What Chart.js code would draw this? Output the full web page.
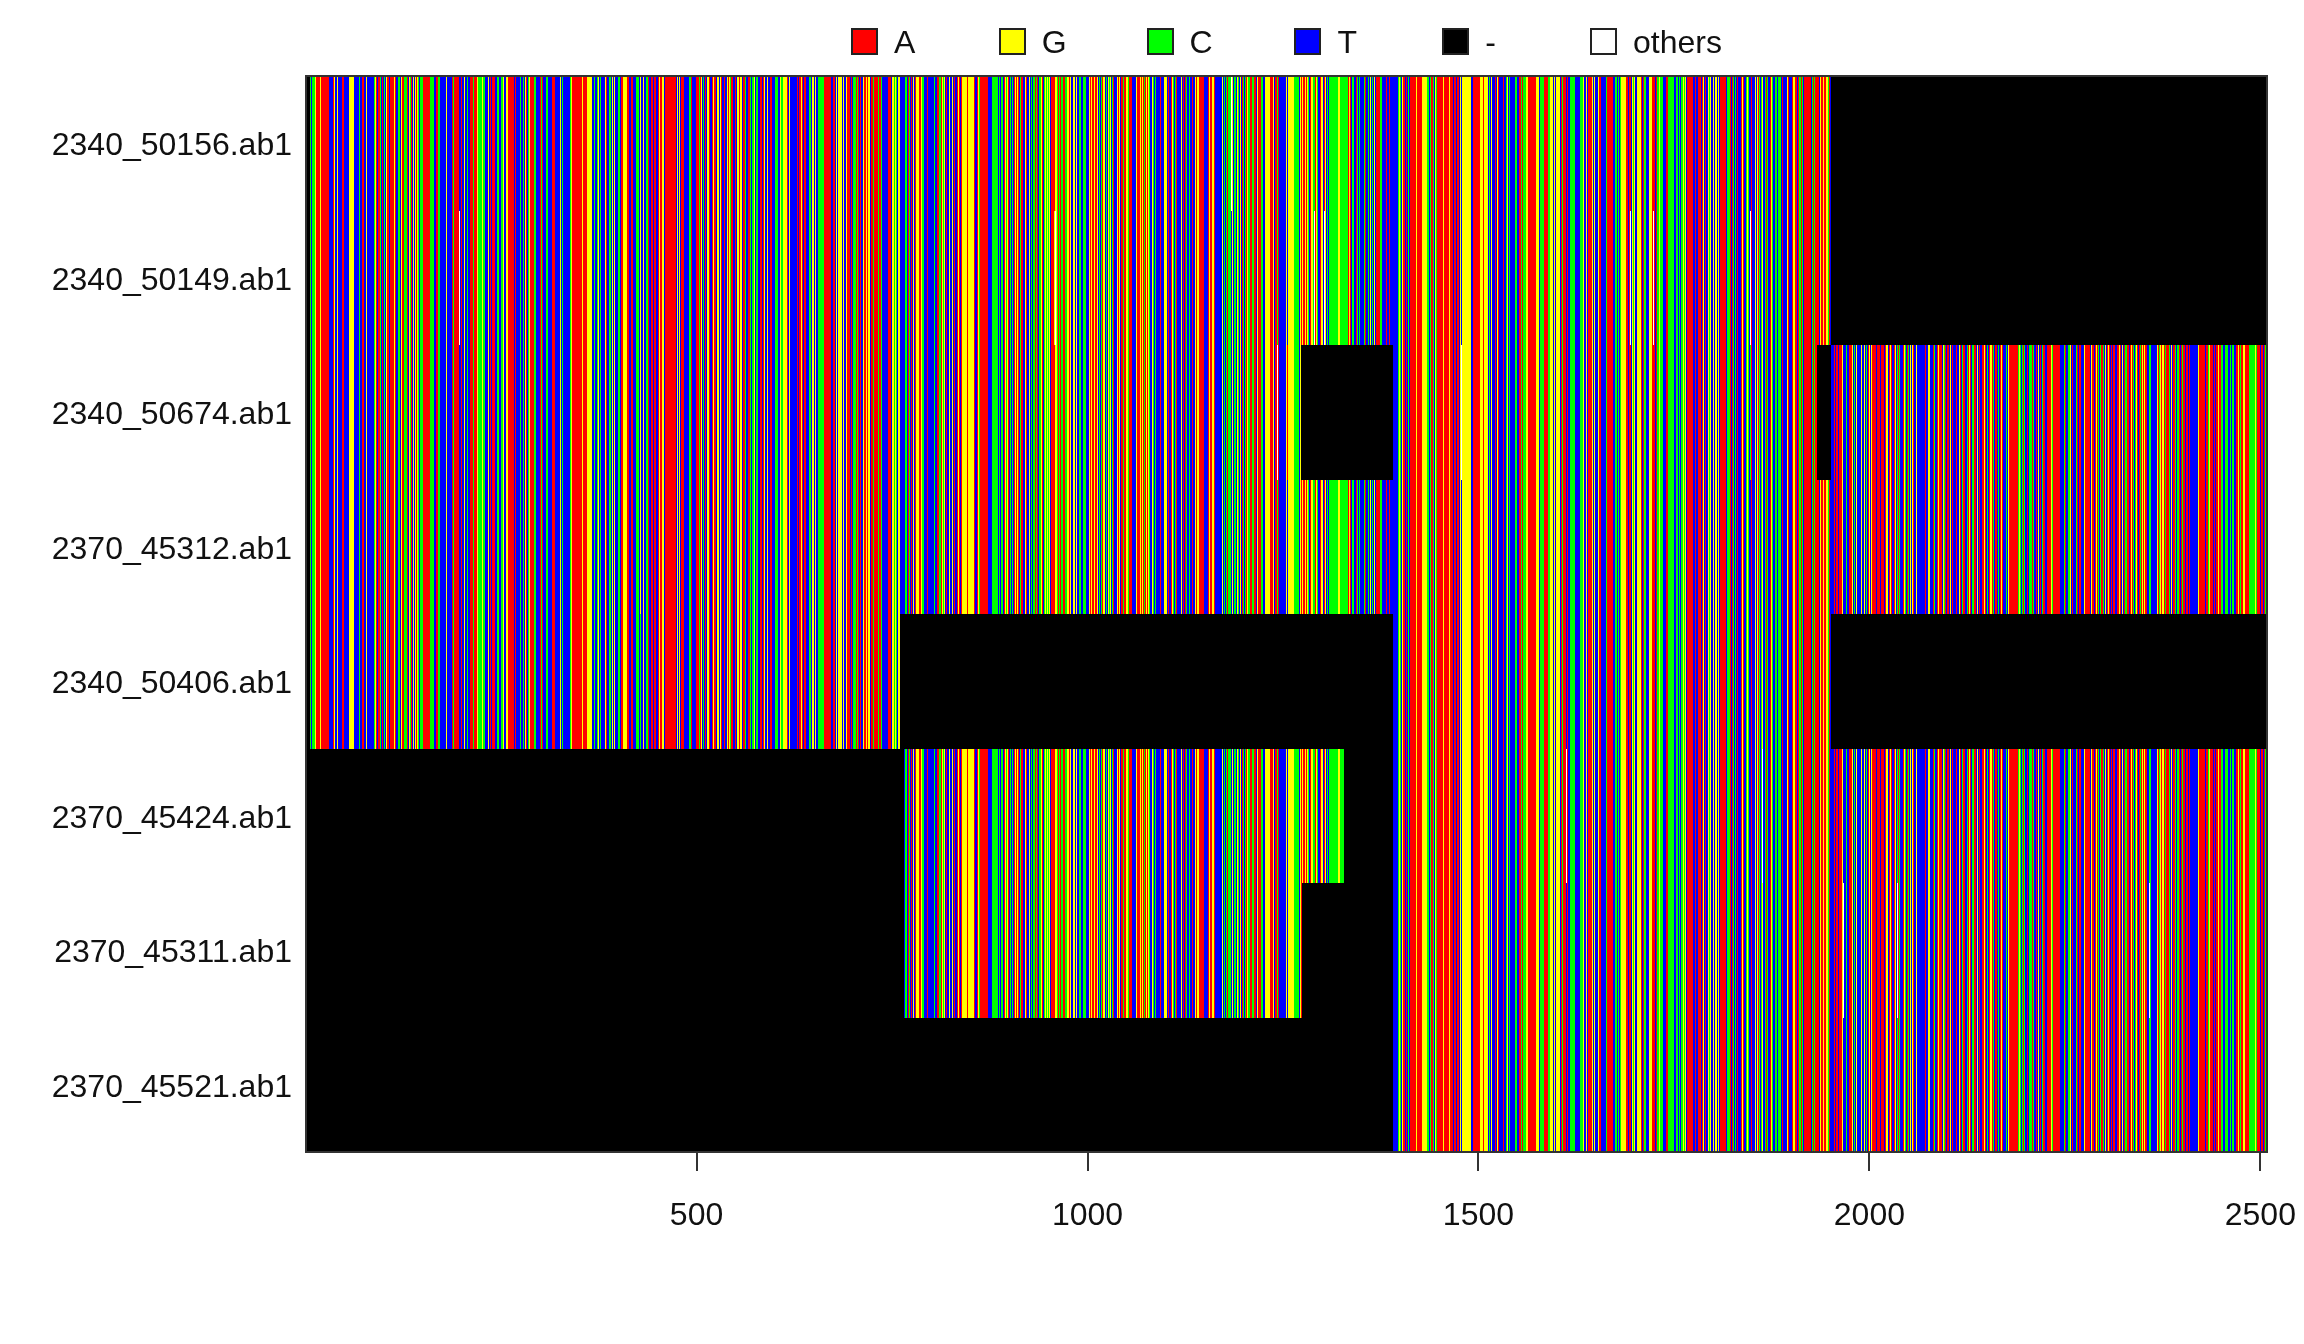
<!DOCTYPE html>
<html>
<head>
<meta charset="utf-8">
<title>Alignment</title>
<script src="https://cdn.jsdelivr.net/npm/chart.js@4"></script>
<style>
  body { margin: 0; background: #fff; }
  #wrap { position: relative; width: 2304px; height: 1344px; }
  canvas { display: block; }
  .key { position: absolute; top: 28px; height: 28px; font: 32px "Liberation Sans", Arial, sans-serif; color: #111; }
  .key i { position: absolute; left: 0; top: 0; width: 23px; height: 23px; border: 2px solid #222; }
  .key span { position: absolute; left: 43px; top: -4px; line-height: 36px; white-space: nowrap; }
</style>
</head>
<body>
<div id="wrap"><canvas id="chart" width="2304" height="1344"></canvas></div>
<script>
const samples = ['2340_50156.ab1', '2340_50149.ab1', '2340_50674.ab1', '2370_45312.ab1',
  '2340_50406.ab1', '2370_45424.ab1', '2370_45311.ab1', '2370_45521.ab1'];
const xTicks = [500, 1000, 1500, 2000, 2500];
const alignmentLength = 2508;

const bases = ['A', 'G', 'C', 'T', '-', 'N'];
const baseNames = ['A', 'G', 'C', 'T', '-', 'others'];
const baseColors = ['#ff0000', '#ffff00', '#00ff00', '#0000ff', '#000000', '#ffffff'];

const stretchStarts = [1, 376, 632, 887, 1143, 1257, 1390, 1527, 1693, 1859, 1950, 2166];
const stretchBases = [
  '----CCTCCCTGAAAAGAAAAAAAAAATTTTAAGTGTGTTTTAAATTTATTGGGGGTTTTTTTCTCAATTTGTTTTTTTTCGTATATACTATCTGTAATAAAAAGATTTCCTGGAACCCAGTGCAATGTGAGCTTCCCCAAAAAAACCCCCCTTAACCTTTTTTTTGTTTTTTACAGAAAATTATTTGTTTCTTAAAACAATAGCCCCGACCTTCTGTATAAAATTCCCTTTCGTCTGGAGAAAAATATTTTTTCTTCTGTATCGAAAAACCTTTTTAACATTTCCTTTTTTAAAATTTTTGTGCTTTTTTTTCGAGAAAAAAAAAAGAGAAATGGGGGTTCCTTCGG',
  'TCTTTTTTGATTTCCCTGTTGTTGTTCCCTAAAGAGGGAAATTTAATTCTTCCCCTGGGTTGTTTCCTATTTAAATAAATTTAGGAAGAGTAAAAAAAAAAAAATAATCGTGTTAAGATTTTTTTCCAAATTTTTAAAACCAGATCTATTGAGGATTAGGAATATGGTAGATTGTATTAGAGCAAATTCTATGTGAGGATTAAGCTTAATACTCCCGTCCCCTTTAATAAGTTGAGTTTAATTTTTCCCCTTGTCCAGGTGGATTGTTGGTTTTTTATTT',
  'AGATTAAATTTCTCTGGTGTGTCCCCCCCAAAAAAAAATTAATTGTGGGGATGTTTGAAGATATCCCCACATAATTGGAAGAGGTGAACAAAAATCAACTTTTTTTATAATTGCGGCTGGGTTTTTTCCTACATATGATAGGGGATGCCGTTTATTTTTATCATTAATCCATGCGTATTGGTTGGTATTAAGATAGGGGGGTAGGGAGGATTTAAGCAAAAAAAAATTTTTCCCCCCCCT',
  'CGTCCTTAGCGGATTCTCTTAGAGAATCAAATTTGATTTGTCTTCCATCATTCCGATTCGGCGCGTTAAAAAGGCCACATCCATACCGAGAGATTGGTTGTTTCCTTTCCCCTTTAGAGAGAGAGAGTACATCAGAGTCCTGCGGTCAGTTTGAAGTAGACATAGGCAAAAGTTTTCGAAATGAGCACAGCAGCTTTGCATCTATTTAATTTGAGGTTATTAGGCTCCATTGTTGTCATACCTTCATTAATTGAGGGT',
  'AAAAAATTTTGAGAGAGGAGTTTTTTTCGTCTACACCCCTGATCATGCTAGTATCTCATGCCAGACAAATGAAAAGCCTTCGGGGCGAAAGTAGACATTTTTGTTTGTT',
  'GGGGGGGGCCCCCCTGTAGAGAGAGGCTAGAGCCGAGCTATAGAGTAGATCTCTCCCCCCCCCCGGGCCCCCCCCCCAGATTCCTATACTTCTTATTCCATTCTTGTCATGTTAAAACCCTCTTTAGTTAGTT',
  'TTTTTTACGCTTGAAATATACTAAAAAAAAGAAAAAAGGGGGGGCCTCCAATCTGCTAAAATAAGCAAAAAGAAAATAAATAAATGTTGGGGGGGGAGGTTAAAAAGAAAGGGGAGGGGGGTCTTGTTTTATGTA',
  'TTTTATTTCGTTCTTCTTTCTCTTAAACACCCCGAGAAGAAAAAAGGGGTCCCCCAAAAAACCGGTGTGTTGGGGGTACAAATTATTACCCCCCTTTTTTCCCCGTTTGTAAAAAAGTGGTTAGAATTTTTTACAATAAAATTTCTCTCTTCGGGGGGATAT',
  'ACTGCTGTTGGGGGGATACCCTTTGGGGAAAATCACCAGCCCTTTTAAACCCCCCGTTCTCTCTTCCGGCGTAAAAAAGATTTATTAAAATCAGTATTTGCCGTTTGTGTTGTAAAAACAATACCCACTACTTCTACTTTAAGATATCGCCTTATTTTGGTGA',
  'CTCGCTTCACCTTAGCTCTCCTACCGTATTCTTGAATTGAGGAGATAGCACTTAAAAAAAATCAACAAGAATGAAGGAAGGGCA',
  'TTTTATTAATTAAAAGTTTCTTTAAAGGTCTGTTTTTGTTCGTCGTAGTAGAAAATAAAATAAAATTAGTGAGATTTAGCTCACGTTGAGCTTACTAGTGATTGTTTTTTTTTTTATTTGTTTTACCTTAGTAAATGCAATAATAGTATTTTATTGAATCAGATTCTAGATCCAAATGCTATTCAAGATCTTAGGATCTAGATC',
  'TAGATCTTCTTGAAAAAAAAAAACGCGTCACATTATCCCTACTTCATGTTATCCATTTAAAAAGCAAAAAAAATTTTTGCATTACCGTTATTTCATAAATGTTGATAAAATGAGATAGTACTCCAACTGTTAGATAATAACTTAAGATAGTAGCCAAATAGACTCAGATATCAGAAGAAGTCACTTTTTTTGAACGAAGATCAAGACTGCTAACCTCGATACAAATGAATAATTTTTTTTTGAATAAAGATAACGATAATATTAAGAAACCTTCGCCTATCTCGCTTAAGAACAAGAGAATAACCCCCCCGCAAAATACATACCC'
];

// stretches of a row with no read, [from, to]
const rowGaps = [
  [[1951, 2508]],
  [[1951, 2508]],
  [[1274, 1390], [1933, 1950]],
  [],
  [[761, 1390], [1951, 2508]],
  [[1, 765], [1328, 1390]],
  [[1, 765], [1275, 1390]],
  [[1, 1390]]
];

// single positions where a row differs from the consensus, [row, position, base]
const rowVariants = [
  [0, 1184, 'N'], [1, 197, 'N'], [1, 958, 'G'], [1, 959, 'N'], [1, 1290, 'N'], [1, 1303, 'N'],
  [1, 1534, 'C'], [1, 1694, 'N'], [1, 1724, 'N'], [1, 1848, 'N'], [2, 890, 'C'], [2, 958, 'A'],
  [2, 1243, 'N'], [2, 1256, 'A'], [2, 1478, 'N'], [2, 1848, 'C'], [4, 428, 'C'], [5, 1613, 'N'],
  [5, 1863, 'N'], [6, 1967, 'N'], [6, 2036, 'N'], [6, 2358, 'N']
];

function buildConsensus() {
  const seq = new Array(alignmentLength + 1).fill('-');
  stretchStarts.forEach((start, k) => {
    const end = k + 1 < stretchStarts.length ? stretchStarts[k + 1] : alignmentLength + 1;
    const text = stretchBases[k];
    for (let p = start; p < end; p++) {
      seq[p] = text[Math.floor((p - start) * text.length / (end - start))];
    }
  });
  return seq;
}

function buildDatasets() {
  const consensus = buildConsensus();
  const byBase = {};
  bases.forEach(b => { byBase[b] = []; });

  samples.forEach((name, row) => {
    const seq = consensus.slice();
    rowGaps[row].forEach(([from, to]) => {
      for (let p = from; p <= to; p++) seq[p] = '-';
    });
    rowVariants.filter(v => v[0] === row).forEach(v => { seq[v[1]] = v[2]; });

    let runStart = 1;
    for (let p = 2; p <= alignmentLength + 1; p++) {
      if (p > alignmentLength || seq[p] !== seq[runStart]) {
        byBase[seq[runStart]].push({ x: [runStart - 0.5, p - 0.5], y: name });
        runStart = p;
      }
    }
  });

  return bases.map((b, i) => ({
    label: baseNames[i],
    data: byBase[b],
    backgroundColor: baseColors[i],
    borderWidth: 0,
    inflateAmount: 0,
    grouped: false,
    barPercentage: 1,
    categoryPercentage: 1
  }));
}

// the reference is a raster image, so cells sit on whole pixels
const snapCells = {
  id: 'snapCells',
  afterDatasetsUpdate(chart) {
    chart.getSortedVisibleDatasetMetas().forEach(meta => {
      meta.data.forEach(el => {
        const top = Math.round(el.y - el.height / 2);
        const bottom = Math.round(el.y + el.height / 2);
        el.x = Math.round(el.x);
        el.base = Math.round(el.base);
        el.y = (top + bottom) / 2;
        el.height = bottom - top;
      });
    });
  }
};

const plotBox = {
  id: 'plotBox',
  afterDatasetsDraw(chart) {
    const { ctx, chartArea: a } = chart;
    ctx.save();
    ctx.strokeStyle = '#333';
    ctx.lineWidth = 2;
    ctx.strokeRect(a.left, a.top, a.right - a.left, a.bottom - a.top);
    ctx.restore();
  }
};

const tickFont = { family: '"Liberation Sans", Arial, sans-serif', size: 32 };

new Chart(document.getElementById('chart').getContext('2d'), {
  type: 'bar',
  data: { labels: samples, datasets: buildDatasets() },
  plugins: [snapCells, plotBox],
  options: {
    indexAxis: 'y',
    responsive: false,
    animation: false,
    events: [],
    layout: { padding: { top: 76, right: 37, left: 0, bottom: 0 } },
    plugins: { legend: { display: false }, tooltip: { enabled: false } },
    scales: {
      x: {
        type: 'linear',
        min: 0.5,
        max: alignmentLength + 0.5,
        afterBuildTicks: scale => { scale.ticks = xTicks.map(value => ({ value })); },
        afterFit: scale => {
          scale.height = 192;
          scale.paddingLeft = 0;
          scale.paddingRight = 0;
        },
        grid: { drawOnChartArea: false, tickLength: 19, color: '#333', lineWidth: 2 },
        border: { display: false },
        ticks: { font: tickFont, color: '#111', padding: 26, maxRotation: 0, autoSkip: false, callback: v => String(v) }
      },
      y: {
        type: 'category',
        afterFit: scale => {
          scale.width = 306;
          scale.paddingTop = 0;
          scale.paddingBottom = 0;
        },
        grid: { display: false },
        border: { display: false },
        ticks: { font: tickFont, color: '#111', padding: 6, labelOffset: 3, autoSkip: false }
      }
    }
  }
});

// legend sits on an even pitch, which the built-in one can't do
const wrap = document.getElementById('wrap');
baseNames.forEach((name, i) => {
  const key = document.createElement('div');
  key.className = 'key';
  key.style.left = (851 + i * 147.8) + 'px';
  key.innerHTML = '<i style="background:' + baseColors[i] + '"></i><span></span>';
  key.querySelector('span').textContent = name;
  wrap.appendChild(key);
});
</script>
</body>
</html>
